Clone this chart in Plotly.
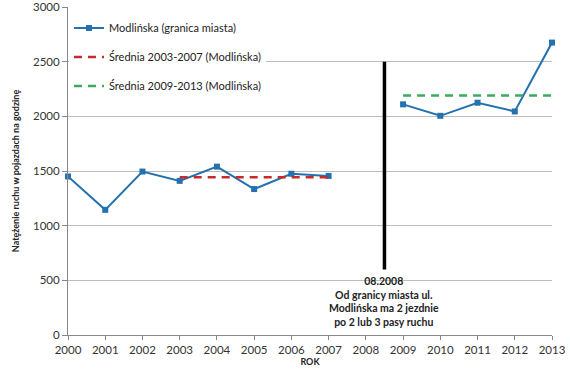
import plotly.graph_objects as go

years = [2000, 2001, 2002, 2003, 2004, 2005, 2006, 2007, None, 2009, 2010, 2011, 2012, 2013]
traffic = [1450, 1145, 1495, 1410, 1540, 1335, 1475, 1455, None, 2110, 2005, 2125, 2045, 2675]

avg1_years = [2003, 2007]
avg1_src = [1410, 1540, 1335, 1475, 1455]
avg2_years = [2009, 2013]
avg2_src = [2110, 2005, 2125, 2045, 2675]

change_x = [2008.5, 2008.5]
change_y = [600, 2500]

tick_years = list(range(2000, 2014))
y_ticks = [0, 500, 1000, 1500, 2000, 2500, 3000]

avg1 = sum(avg1_src) / len(avg1_src)
avg2 = sum(avg2_src) / len(avg2_src)

FONT = "Lato"
fig = go.Figure()
fig.add_trace(go.Scatter(
    x=years, y=traffic, mode="lines+markers", name="Modlińska (granica miasta)",
    line=dict(color="#2471B0", width=2), marker=dict(symbol="square", size=6, color="#2471B0"),
    legendgroup="a", cliponaxis=False, connectgaps=False))
fig.add_trace(go.Scatter(
    x=avg1_years, y=[avg1, avg1], mode="lines", name="Średnia 2003-2007 (Modlińska)",
    line=dict(color="#C42B2B", width=2.5, dash="8px,6px"), legendgroup="b"))
fig.add_trace(go.Scatter(
    x=avg2_years, y=[avg2, avg2], mode="lines", name="Średnia 2009-2013 (Modlińska)",
    line=dict(color="#3AAA5C", width=2.5, dash="8px,6px"), legendgroup="c"))
fig.add_trace(go.Scatter(
    x=change_x, y=change_y, mode="lines", showlegend=False,
    line=dict(color="black", width=3.5)))

fig.add_annotation(
    x=2008.5, y=change_y[0], yshift=-4, xref="x", yref="y", yanchor="top", showarrow=False,
    text="<b>08.2008<br>Od granicy miasta ul.<br>Modlińska ma 2 jezdnie<br>po 2 lub 3 pasy ruchu</b>",
    font=dict(family=FONT, size=10.5, color="#222"), align="center")

fig.update_layout(
    width=570, height=375,
    margin=dict(l=68, r=18, t=7, b=40, autoexpand=False),
    paper_bgcolor="white", plot_bgcolor="white",
    font=dict(family=FONT, size=12, color="#333"),
    legend=dict(x=0.002, y=0.98, xanchor="left", yanchor="top", bgcolor="white",
                font=dict(family=FONT, size=11, color="#222"), tracegroupgap=10,
                itemwidth=30),
    showlegend=True,
)
fig.update_xaxes(range=[2000, 2013], tickvals=tick_years, ticktext=[str(t) for t in tick_years],
                 showgrid=False, showline=True, linecolor="#888", linewidth=1,
                 ticks="outside", ticklen=4, tickcolor="#888", zeroline=False,
                 ticklabeloverflow="allow", automargin=False,
                 tickfont=dict(size=11.5, color="#333"),
                 title=dict(text="<b>ROK</b>", font=dict(size=9, color="#222"), standoff=2))
fig.update_yaxes(range=[0, 3000.5], tickvals=y_ticks, showgrid=True, gridcolor="#BDBDBD",
                 showline=True, linecolor="#888", linewidth=1, ticks="outside", ticklen=5,
                 tickcolor="#888", zeroline=False, tickfont=dict(size=11.5, color="#333"),
                 ticklabeloverflow="allow", automargin=False,
                 title=dict(text="<b>Natężenie ruchu w pojazdach na godzinę</b>",
                            font=dict(size=9, color="#222"), standoff=11))

fig.write_html("out.html", config={"displayModeBar": False},
               post_script="document.body.style.margin='0';")
